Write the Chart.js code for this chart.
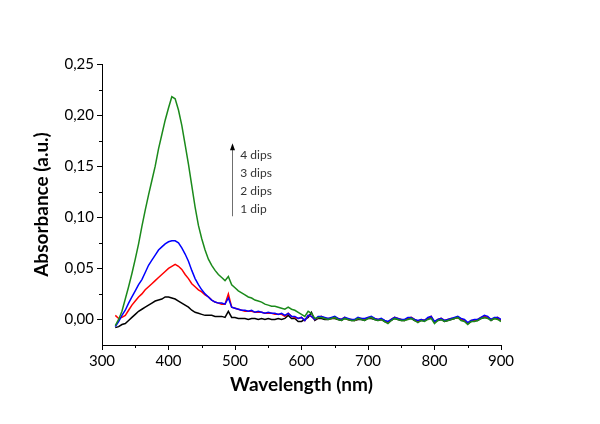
<!DOCTYPE html>
<html>
<head>
<meta charset="utf-8">
<script src="https://cdn.jsdelivr.net/npm/chart.js@4/dist/chart.umd.min.js"></script>
<style>
html,body{margin:0;padding:0;background:#fff;}
#wrap{width:600px;height:424px;}
</style>
</head>
<body>
<div id="wrap"><canvas id="c" width="600" height="424"></canvas></div>
<script>
// ---- data ----
const wavelengths = [320,325,330,335,340,345,350,355,360,365,370,375,380,385,390,395,400,405,410,415,420,425,430,435,440,445,450,455,460,465,470,475,480,485,490,495,
  500,505,510,515,520,525,530,535,540,545,550,555,560,565,570,575,580,585,590,595,600,605,610,615,620,
  625,630,635,640,645,650,655,660,665,670,
  675,680,685,690,695,700,705,710,715,720,
  725,730,735,740,745,750,755,760,765,770,
  775,780,785,790,795,800,805,810,815,820,
  825,830,835,840,845,850,855,860,865,870,
  875,880,885,890,895,900];

const dips4 = [-0.006,0.000,0.008,0.020,0.032,0.045,0.059,0.074,0.091,0.107,0.122,0.136,0.150,0.167,0.181,0.195,0.207,0.218,0.216,0.205,0.190,0.171,0.152,0.131,0.110,0.092,0.079,0.068,0.059,0.053,0.048,0.044,0.041,0.038,0.042,0.034,
  0.031,0.028,0.026,0.024,0.022,0.021,0.019,0.018,0.017,0.015,0.014,0.013,0.013,0.012,0.011,0.010,0.012,0.010,0.009,0.007,0.005,0.003,0.008,0.006,0.001,
  0.002,0.002,0.001,0.000,0.001,0.002,0.000,-0.001,0.001,0.000,
  -0.001,-0.001,0.001,0.000,-0.001,0.001,0.002,0.000,-0.001,0.000,
  -0.002,-0.004,-0.001,0.001,0.000,-0.001,-0.001,0.000,0.001,-0.001,
  -0.003,-0.001,-0.002,0.000,0.001,-0.004,-0.001,0.000,-0.002,-0.001,
  0.000,0.001,0.002,-0.001,-0.002,-0.005,-0.002,-0.002,-0.001,0.001,
  0.002,0.001,-0.001,0.001,0.000,-0.002];

const dips3 = [-0.007,-0.002,0.004,0.009,0.016,0.022,0.028,0.034,0.039,0.046,0.053,0.058,0.063,0.068,0.071,0.074,0.076,0.077,0.077,0.075,0.070,0.064,0.057,0.048,0.040,0.034,0.029,0.025,0.022,0.019,0.017,0.016,0.016,0.015,0.021,0.012,
  0.011,0.010,0.009,0.009,0.008,0.009,0.007,0.008,0.007,0.006,0.007,0.006,0.006,0.005,0.006,0.004,0.006,0.003,0.003,0.001,0.002,-0.001,0.004,0.003,0.000,
  0.003,0.003,0.002,0.001,0.002,0.003,0.001,0.000,0.002,0.001,
  0.000,0.000,0.002,0.001,0.001,0.002,0.003,0.001,0.000,0.001,
  -0.001,-0.002,0.000,0.002,0.001,0.000,0.000,0.002,0.002,0.000,
  -0.001,0.000,-0.001,0.002,0.003,-0.002,0.000,0.001,-0.001,0.000,
  0.001,0.002,0.003,0.001,0.000,-0.003,-0.001,0.000,0.000,0.002,
  0.004,0.003,0.000,0.002,0.002,0.000];

const dips2 = [0.004,0.001,0.002,0.004,0.009,0.014,0.018,0.022,0.025,0.029,0.032,0.035,0.038,0.041,0.044,0.047,0.050,0.052,0.054,0.052,0.049,0.044,0.040,0.035,0.032,0.029,0.027,0.024,0.022,0.019,0.017,0.016,0.015,0.015,0.025,0.012,
  0.011,0.010,0.009,0.008,0.008,0.008,0.007,0.007,0.007,0.006,0.006,0.006,0.005,0.005,0.005,0.003,0.006,0.003,0.002,0.001,0.002,-0.001,0.004,0.003,0.000,
  0.002,0.003,0.001,0.001,0.001,0.002,0.001,0.000,0.002,0.000,
  0.000,-0.001,0.001,0.001,0.000,0.002,0.002,0.001,0.000,0.000,
  -0.001,-0.003,0.000,0.002,0.001,0.000,-0.001,0.001,0.002,0.000,
  -0.002,0.000,-0.001,0.001,0.003,-0.003,0.000,0.001,-0.001,0.000,
  0.001,0.001,0.002,0.000,-0.001,-0.004,-0.001,-0.001,0.000,0.002,
  0.003,0.002,0.000,0.001,0.002,-0.001];

const dips1 = [-0.008,-0.007,-0.005,-0.004,-0.001,0.002,0.005,0.008,0.010,0.012,0.014,0.016,0.018,0.019,0.020,0.022,0.022,0.021,0.020,0.018,0.016,0.014,0.012,0.009,0.007,0.006,0.005,0.004,0.004,0.004,0.003,0.003,0.003,0.002,0.008,0.002,
  0.002,0.001,0.001,0.001,0.000,0.001,0.001,0.000,0.001,0.000,0.001,0.000,0.000,0.001,0.000,0.001,0.004,0.001,0.001,-0.002,-0.002,0.000,0.002,0.007,-0.001,
  0.001,0.001,0.000,0.000,0.001,0.001,0.000,-0.001,0.001,0.000,
  -0.001,-0.001,0.000,0.000,-0.001,0.001,0.001,0.000,-0.001,0.000,
  -0.002,-0.003,-0.001,0.001,0.000,-0.001,-0.001,0.001,0.001,-0.001,
  -0.002,-0.001,-0.001,0.001,0.002,-0.003,-0.001,0.000,-0.002,-0.001,
  0.000,0.001,0.002,0.000,-0.001,-0.004,-0.002,-0.001,-0.001,0.001,
  0.002,0.002,-0.001,0.001,0.001,-0.001];

const xTicks = [300,400,500,600,700,800,900];
const xMinorTicks = [350,450,550,650,750,850];
const yTicks = [0.00,0.05,0.10,0.15,0.20,0.25];
const yMinorTicks = [0.025,0.075,0.125,0.175,0.225];
const annotationLabels = ['4 dips','3 dips','2 dips','1 dip'];

// ---- chart ----
const FONT = 'Lato, "Open Sans", sans-serif';
function pts(arr){ return wavelengths.map((w,i)=>({x:w,y:arr[i]})); }

const minorTicksPlugin = {
  id:'minorTicks',
  afterDraw(chart){
    const ctx = chart.ctx, xs = chart.scales.x, ys = chart.scales.y;
    ctx.save();
    ctx.strokeStyle = '#000';
    ctx.lineWidth = 1;
    ctx.beginPath();
    xMinorTicks.forEach(v=>{
      const px = Math.round(xs.getPixelForValue(v))+0.5;
      ctx.moveTo(px, xs.top); ctx.lineTo(px, xs.top+3);
    });
    yMinorTicks.forEach(v=>{
      const py = Math.round(ys.getPixelForValue(v))+0.5;
      ctx.moveTo(ys.right, py); ctx.lineTo(ys.right-3, py);
    });
    ctx.stroke();
    ctx.restore();
  }
};

const annotationPlugin = {
  id:'dipsAnnotation',
  afterDatasetsDraw(chart){
    const ctx = chart.ctx, xs = chart.scales.x, ys = chart.scales.y;
    const ax = Math.round(xs.getPixelForValue(495))+0.5;
    const yTop = ys.getPixelForValue(0.1725);
    const yBot = ys.getPixelForValue(0.101);
    ctx.save();
    ctx.strokeStyle = '#6f6f6f';
    ctx.lineWidth = 1;
    ctx.beginPath();
    ctx.moveTo(ax, yBot); ctx.lineTo(ax, yTop+5);
    ctx.stroke();
    ctx.fillStyle = '#000';
    ctx.beginPath();
    ctx.moveTo(ax, yTop); ctx.lineTo(ax-2.5, yTop+7); ctx.lineTo(ax+2.5, yTop+7); ctx.closePath();
    ctx.fill();
    ctx.fillStyle = '#333';
    ctx.font = '12px ' + FONT;
    ctx.textBaseline = 'middle';
    ctx.textAlign = 'left';
    const tx = xs.getPixelForValue(508);
    const yv = [0.161,0.1435,0.1256,0.1077];
    annotationLabels.forEach((t,i)=>{ ctx.fillText(t, tx, ys.getPixelForValue(yv[i])); });
    ctx.restore();
  }
};

new Chart(document.getElementById('c'), {
  type:'line',
  data:{
    datasets:[
      {label:'4 dips', data:pts(dips4), borderColor:'#1b8a1b', order:0},
      {label:'3 dips', data:pts(dips3), borderColor:'#0000ff', order:1},
      {label:'2 dips', data:pts(dips2), borderColor:'#ff0000', order:2},
      {label:'1 dip',  data:pts(dips1), borderColor:'#000000', order:3}
    ].map(d=>Object.assign(d,{borderWidth:1.5, pointRadius:0, fill:false, tension:0}))
  },
  options:{
    responsive:false,
    animation:false,
    layout:{padding:{top:64, right:99, left:0, bottom:0}},
    plugins:{legend:{display:false}, tooltip:{enabled:false}},
    scales:{
      x:{
        type:'linear', min:300, max:900,
        afterBuildTicks(s){ s.ticks = xTicks.map(v=>({value:v})); },
        afterFit(s){ s.height = 79; },
        grid:{display:true, drawOnChartArea:false, drawTicks:true, tickLength:5, color:'#000'},
        border:{display:true, color:'#000', width:1},
        ticks:{color:'#000', font:{family:FONT, size:15}, padding:2, maxRotation:0, callback:v=>String(v)},
        title:{display:true, text:'Wavelength (nm)', color:'#000', font:{family:FONT, size:19, weight:'bold'}, padding:{top:0,bottom:28}}
      },
      y:{
        type:'linear', min:-0.025, max:0.25,
        afterBuildTicks(s){ s.ticks = yTicks.map(v=>({value:v})); },
        afterFit(s){ s.width = 102; },
        grid:{display:true, drawOnChartArea:false, drawTicks:true, tickLength:5, color:'#000'},
        border:{display:true, color:'#000', width:1},
        ticks:{color:'#000', font:{family:FONT, size:15}, padding:3, callback:v=>v.toFixed(2).replace('.',',')},
        title:{display:true, text:'Absorbance (a.u.)', color:'#000', font:{family:FONT, size:19, weight:'bold'}, padding:{top:30,bottom:0}}
      }
    }
  },
  plugins:[minorTicksPlugin, annotationPlugin]
});
</script>
</body>
</html>
